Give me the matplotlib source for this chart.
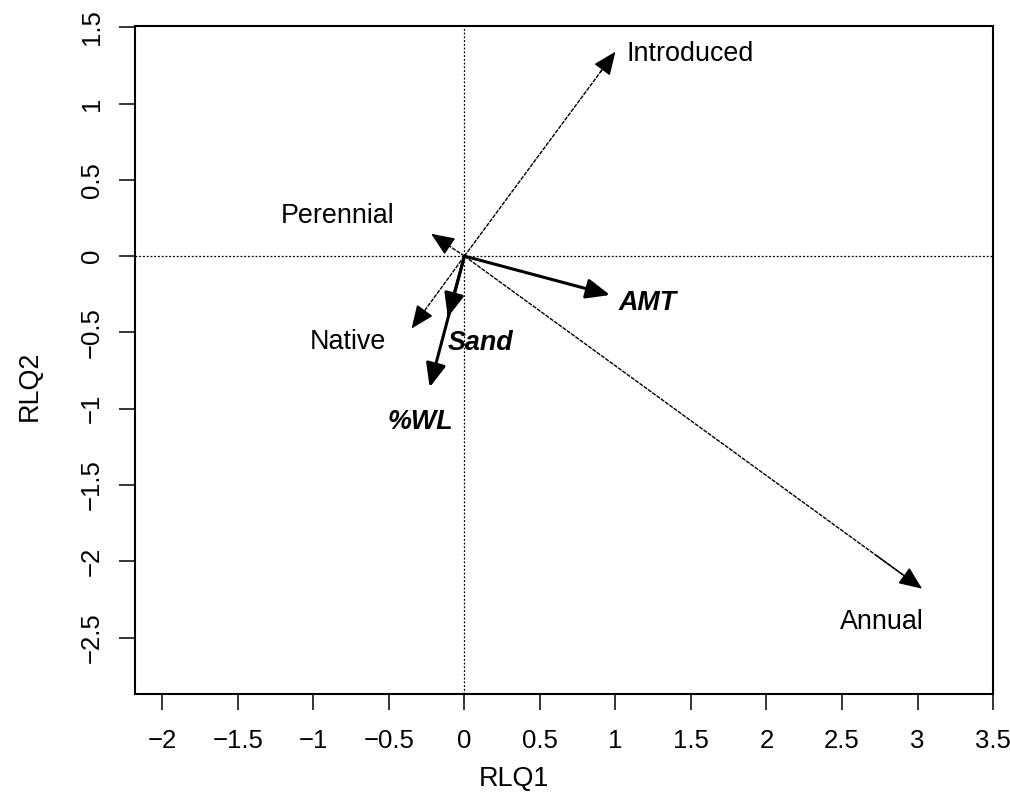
import matplotlib
matplotlib.use("Agg")
import matplotlib.pyplot as plt

plt.rcParams["font.family"] = ["Liberation Sans", "DejaVu Sans"]

# species traits (thin dashed arrows)
trait_names = ["Introduced", "Annual", "Perennial", "Native"]
trait_x = [1.00, 3.03, -0.22, -0.35]
trait_y = [1.34, -2.18, 0.146, -0.475]
trait_lab_x = [1.07, 2.761, -0.838, -0.771]
trait_lab_y = [1.279, -2.446, 0.216, -0.606]
trait_ha = ["left", "center", "center", "center"]

# environmental variables (thick arrows)
env_names = ["AMT", "Sand", "%WL"]
env_x = [0.964, -0.11, -0.23]
env_y = [-0.255, -0.40, -0.86]
env_lab_x = [1.21, 0.107, -0.294]
env_lab_y = [-0.353, -0.614, -1.131]

xticks = [-2, -1.5, -1, -0.5, 0, 0.5, 1, 1.5, 2, 2.5, 3, 3.5]
yticks = [-2.5, -2, -1.5, -1, -0.5, 0, 0.5, 1, 1.5]


def tick_text(v):
    s = ("%g" % v)
    return s.replace("-", "\u2212")


fig = plt.figure(figsize=(10.1, 8.11), dpi=100)
ax = fig.add_axes([0.1337, 0.1443, 0.8495, 0.8240])

ax.axhline(0, color="k", lw=0.9, linestyle=(0, (1.5, 1.5)))
ax.axvline(0, color="k", lw=0.9, linestyle=(0, (1.5, 1.5)))


def draw_arrow(x, y, lw, ls, ms):
    # shaft
    ax.plot([0, x * 0.97], [0, y * 0.97], color="k", lw=lw, linestyle=ls,
            solid_capstyle="butt")
    # head
    ax.annotate("", xy=(x, y), xytext=(x * 0.9, y * 0.9),
                arrowprops=dict(arrowstyle="-|>,head_length=0.9,head_width=0.38",
                                color="k", lw=lw, shrinkA=0, shrinkB=0,
                                mutation_scale=ms))


for i in range(len(trait_names)):
    draw_arrow(trait_x[i], trait_y[i], 1.0, (0, (3, 0.8)), 16)
    ax.text(trait_lab_x[i], trait_lab_y[i], trait_names[i], fontsize=19.4,
            ha=trait_ha[i], va="baseline")

for i in range(len(env_names)):
    draw_arrow(env_x[i], env_y[i], 2.2, "-", 16)
    ax.text(env_lab_x[i], env_lab_y[i], env_names[i], fontsize=19.4,
            fontweight="bold", fontstyle="italic", ha="center", va="baseline")

ax.set_xlim(-2.181, 3.5)
ax.set_ylim(-2.87, 1.51)
ax.set_xticks(xticks)
ax.set_xticklabels([tick_text(v) for v in xticks])
ax.set_yticks(yticks)
ax.set_yticklabels([tick_text(v) for v in yticks], rotation=90, va="center")
ax.tick_params(axis="both", direction="out", length=11.5, width=1.1,
               labelsize=18.5)
ax.tick_params(axis="x", pad=14)
ax.tick_params(axis="y", pad=11)
for sp in ax.spines.values():
    sp.set_linewidth(1.5)

fig.text(514 / 1010, 1 - 779 / 811, "RLQ1", fontsize=19.4, ha="center", va="center")
fig.text(30 / 1010, 1 - 386 / 811, "RLQ2", fontsize=19.4, ha="center", va="center",
         rotation=90)

fig.savefig("out.png", dpi=100)
